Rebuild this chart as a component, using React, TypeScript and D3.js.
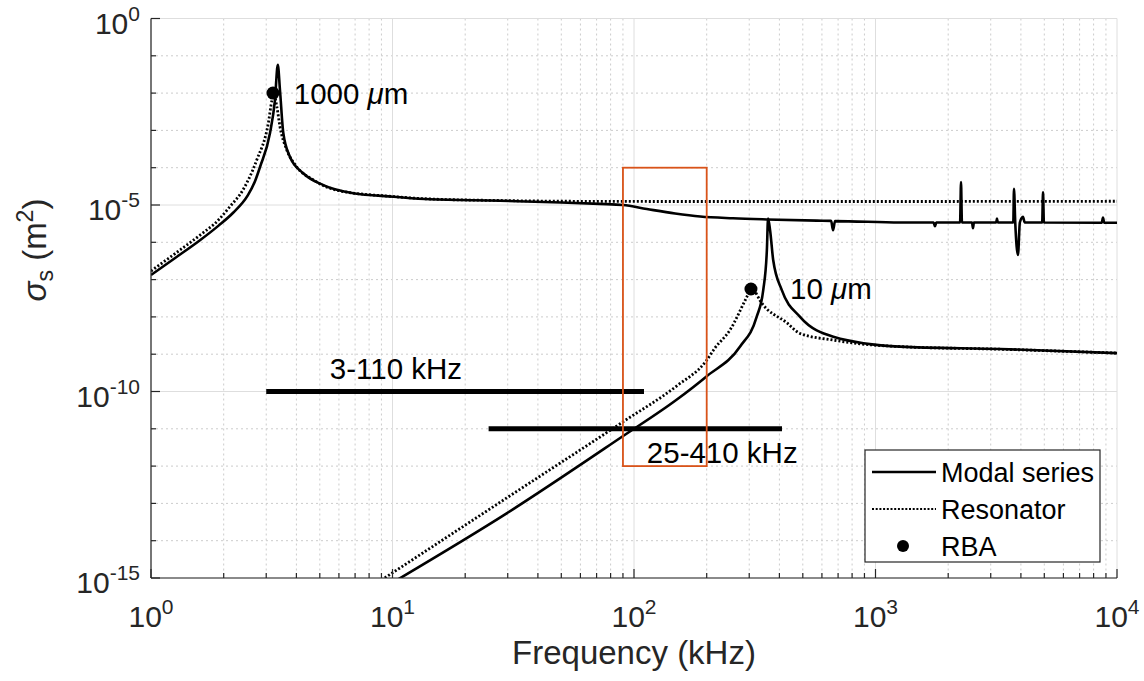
import React from 'react';
import * as d3 from 'd3';

type Pt = [number, number];

// Scattering cross-section (m^2) against frequency (kHz)
const modalSeries1000: Pt[] = [
  [1, 1.33e-7], [1.259, 3.8e-7], [1.585, 1.1e-6], [1.905, 2.8e-6], [2.188, 6.2e-6],
  [2.512, 1.78e-5], [2.69, 4.2e-5], [2.83, 1.06e-4], [3.11, 8.5e-4], [3.26, 6.5e-3],
  [3.35, 5.7e-2], [3.42, 1.21e-2], [3.53, 8.5e-4], [3.76, 1.97e-4], [4.27, 7.1e-5],
  [5.17, 3.4e-5], [6.88, 2.06e-5], [10.1, 1.67e-5], [14.3, 1.42e-5], [27.9, 1.3e-5],
  [50, 1.17e-5], [72, 1.07e-5], [90, 1.0e-5], [113, 7.8e-6], [148, 5.9e-6],
  [188, 4.9e-6], [257, 4.4e-6], [355, 4.1e-6], [572, 3.8e-6],
  [655, 3.75e-6], [667, 2.1e-6], [680, 3.7e-6],
  [1262, 3.4e-6], [1740, 3.4e-6], [1763, 2.7e-6], [1785, 3.4e-6],
  [2240, 3.4e-6], [2260, 4.1e-5], [2280, 3.4e-6],
  [2510, 3.4e-6], [2533, 2.4e-6], [2555, 3.4e-6],
  [3160, 3.4e-6], [3184, 4.3e-6], [3210, 3.4e-6],
  [3720, 3.4e-6], [3745, 2.7e-5], [3790, 3.4e-6], [3890, 4.6e-7], [3960, 3.4e-6],
  [4080, 4.8e-6], [4150, 3.4e-6],
  [4900, 3.4e-6], [4940, 2.2e-5], [4980, 3.4e-6],
  [8650, 3.35e-6], [8750, 4.6e-6], [8850, 3.35e-6], [10000, 3.35e-6],
];

const resonator1000: Pt[] = [
  [1, 1.7e-7], [1.259, 5.0e-7], [1.585, 1.51e-6], [1.905, 4.0e-6], [2.12, 9.0e-6],
  [2.4, 2.5e-5], [2.74, 1.6e-4], [3.06, 1.55e-3], [3.17, 6.5e-3], [3.23, 8.9e-3],
  [3.32, 4.3e-3], [3.42, 1.26e-3], [3.65, 3.0e-4], [4.01, 1.06e-4], [4.7, 4.7e-5],
  [5.87, 2.5e-5], [10, 1.69e-5], [14.3, 1.45e-5], [27.9, 1.32e-5], [72, 1.25e-5],
  [200, 1.24e-5], [1000, 1.24e-5], [10000, 1.26e-5],
];

const modalSeries10: Pt[] = [
  [10, 7.5e-16], [29.7, 5.4e-14], [89.5, 6.2e-12], [150, 6.0e-11], [199, 2.5e-10],
  [275, 1.6e-9], [322, 1.0e-8], [343, 5.3e-8], [355, 6.2e-7], [359, 4.3e-6],
  [366, 2.1e-6], [377, 3.35e-7], [409, 5.3e-8], [487, 1.0e-8], [669, 2.95e-9],
  [1262, 1.6e-9], [3280, 1.38e-9], [10000, 1.07e-9],
];

const resonator10: Pt[] = [
  [9, 8.8e-16], [29.7, 1.4e-13], [89.5, 1.5e-11], [150, 1.4e-10], [199, 6.6e-10],
  [216, 1.44e-9], [250, 4.5e-9], [293, 3.4e-8], [305, 5.6e-8], [317, 4.7e-8],
  [332, 2.8e-8], [430, 6.9e-9], [487, 3.6e-9], [667, 2.4e-9], [862, 1.9e-9],
  [1262, 1.6e-9], [3280, 1.36e-9], [10000, 1.07e-9],
];

const rbaPoints: Pt[] = [[3.2, 1e-2], [305, 5.6e-8]];

const bandRanges = [
  { label: '3-110 kHz', from: 3, to: 110, level: 1e-10 },
  { label: '25-410 kHz', from: 25, to: 410, level: 1e-11 },
];

const highlightBox = { f0: 90, f1: 200, v0: 1e-12, v1: 1e-4 };

const freqTickExponents = [0, 1, 2, 3, 4];
const sigmaLabelExponents = [0, -5, -10, -15];
const legendLabels = ['Modal series', 'Resonator', 'RBA'];

const W = 1144;
const H = 681;
const L = 151;
const R = 1117;
const T = 18.5;
const B = 578;

const FONT = '"Liberation Sans", Arial, Helvetica, sans-serif';
const AX = '#262626';

export default function App() {
  const x = d3.scaleLog().domain([1, 1e4]).range([L, R]);
  const y = d3.scaleLog().domain([1e-15, 1]).range([B, T]);

  const line = d3
    .line<Pt>()
    .x((d) => x(d[0]))
    .y((d) => y(d[1]))
    .curve(d3.curveMonotoneX);

  // minor frequency ticks 2..9 per decade
  const minorF: number[] = [];
  for (let e = 0; e < 4; e++) for (let k = 2; k <= 9; k++) minorF.push(k * Math.pow(10, e));
  const majorF = freqTickExponents.map((e) => Math.pow(10, e));

  const allDecades = d3.range(0, -16, -1);
  const minorDecades = allDecades.filter((e) => !sigmaLabelExponents.includes(e));

  const annotations = [
    { text: '1000 ', unit: 'μm', f: 3.9, v: 1e-2, dy: 11 },
    { text: '10 ', unit: 'μm', f: 443, v: 5.6e-8, dy: 10 },
  ];

  const bandLabels = [
    { text: bandRanges[0].label, f: 5.5, v: bandRanges[0].level, dy: -13 },
    { text: bandRanges[1].label, f: 113, v: bandRanges[1].level, dy: 34 },
  ];

  const legendX = 865;
  const legendY = 450;
  const legendW = 235;
  const legendH = 112;
  const rows = [472, 509, 546];

  return (
    <svg
      width={W}
      height={H}
      viewBox={`0 0 ${W} ${H}`}
      style={{ position: 'absolute', left: 0, top: 0, background: '#fff', fontFamily: FONT }}
    >
      <defs>
        <clipPath id="plotArea">
          <rect x={L} y={T} width={R - L} height={B - T} />
        </clipPath>
      </defs>
      <rect x={0} y={0} width={W} height={H} fill="#fff" />

      {/* grid */}
      <g>
        {minorF.map((f) => (
          <line key={'gfm' + f} x1={x(f)} x2={x(f)} y1={T} y2={B} stroke="#cccccc" strokeWidth={1} strokeDasharray="2,3" />
        ))}
        {minorDecades.map((e) => (
          <line key={'gym' + e} x1={L} x2={R} y1={y(Math.pow(10, e))} y2={y(Math.pow(10, e))} stroke="#cccccc" strokeWidth={1} strokeDasharray="2,3" />
        ))}
        {majorF.map((f) => (
          <line key={'gfM' + f} x1={x(f)} x2={x(f)} y1={T} y2={B} stroke="#dedede" strokeWidth={1} />
        ))}
        {sigmaLabelExponents.map((e) => (
          <line key={'gyM' + e} x1={L} x2={R} y1={y(Math.pow(10, e))} y2={y(Math.pow(10, e))} stroke="#dedede" strokeWidth={1} />
        ))}
      </g>

      {/* curves */}
      <g clipPath="url(#plotArea)" fill="none" stroke="#000">
        <path d={line(resonator1000) || ''} strokeWidth={2.8} strokeDasharray="2,2" />
        <path d={line(resonator10) || ''} strokeWidth={2.8} strokeDasharray="2,2" />
        <path d={line(modalSeries1000) || ''} strokeWidth={2.6} strokeLinejoin="round" />
        <path d={line(modalSeries10) || ''} strokeWidth={2.6} strokeLinejoin="round" />
      </g>

      {/* frequency bands */}
      {bandRanges.map((b) => (
        <line key={b.label} x1={x(b.from)} x2={x(b.to)} y1={y(b.level)} y2={y(b.level)} stroke="#000" strokeWidth={5} />
      ))}

      {/* RBA points */}
      {rbaPoints.map((p, i) => (
        <circle key={'rba' + i} cx={x(p[0])} cy={y(p[1])} r={6.5} fill="#000" />
      ))}

      {/* highlighted region */}
      <rect
        x={x(highlightBox.f0)}
        y={y(highlightBox.v1)}
        width={x(highlightBox.f1) - x(highlightBox.f0)}
        height={y(highlightBox.v0) - y(highlightBox.v1)}
        fill="none"
        stroke="#D95319"
        strokeWidth={1.8}
      />

      {/* annotations */}
      {annotations.map((a) => (
        <text key={a.text} x={x(a.f)} y={y(a.v)} dy={a.dy} fontSize={29.5} fill="#000">
          {a.text}
          <tspan fontStyle="italic">{a.unit.charAt(0)}</tspan>
          {a.unit.slice(1)}
        </text>
      ))}
      {bandLabels.map((a) => (
        <text key={a.text} x={x(a.f)} y={y(a.v)} dy={a.dy} fontSize={29.5} fill="#000">
          {a.text}
        </text>
      ))}

      {/* axes */}
      <g stroke={AX} strokeWidth={1.2}>
        <line x1={L} x2={L} y1={T} y2={B} />
        <line x1={L} x2={R} y1={B} y2={B} />
        {majorF.map((f) => (
          <line key={'tf' + f} x1={x(f)} x2={x(f)} y1={B} y2={B - 9} />
        ))}
        {minorF.map((f) => (
          <line key={'tfm' + f} x1={x(f)} x2={x(f)} y1={B} y2={B - 5} />
        ))}
        {sigmaLabelExponents.map((e) => (
          <line key={'ty' + e} x1={L} x2={L + 9} y1={y(Math.pow(10, e))} y2={y(Math.pow(10, e))} />
        ))}
        {minorDecades.map((e) => (
          <line key={'tym' + e} x1={L} x2={L + 5} y1={y(Math.pow(10, e))} y2={y(Math.pow(10, e))} />
        ))}
      </g>

      {/* tick labels */}
      {freqTickExponents.map((e) => (
        <text key={'lx' + e} x={x(Math.pow(10, e))} y={627} textAnchor="middle" fontSize={30} fill={AX}>
          10<tspan dy={-13} fontSize={21}>{e}</tspan>
        </text>
      ))}
      {sigmaLabelExponents.map((e) => (
        <text key={'ly' + e} x={140} y={y(Math.pow(10, e)) + 15} textAnchor="end" fontSize={30} fill={AX}>
          10<tspan dy={-13} fontSize={21}>{e}</tspan>
        </text>
      ))}

      {/* axis titles */}
      <text x={(L + R) / 2} y={664} textAnchor="middle" fontSize={33} fill={AX}>
        Frequency (kHz)
      </text>
      <text transform="translate(46,250) rotate(-90)" textAnchor="middle" fontSize={33} fill={AX}>
        <tspan fontStyle="italic">σ</tspan>
        <tspan dy={7} fontSize={23}>s</tspan>
        <tspan dy={-7}> (m</tspan>
        <tspan dy={-13} fontSize={23}>2</tspan>
        <tspan dy={13}>)</tspan>
      </text>

      {/* legend */}
      <g>
        <rect x={legendX} y={legendY} width={legendW} height={legendH} fill="#fff" stroke={AX} strokeWidth={1.2} />
        <line x1={872} x2={936} y1={rows[0]} y2={rows[0]} stroke="#000" strokeWidth={2.6} />
        <line x1={872} x2={936} y1={rows[1]} y2={rows[1]} stroke="#000" strokeWidth={2.2} strokeDasharray="2,1.7" />
        <circle cx={903} cy={rows[2]} r={6} fill="#000" />
        {legendLabels.map((t, i) => (
          <text key={t} x={941} y={rows[i] + 10} fontSize={27} fill="#000">
            {t}
          </text>
        ))}
      </g>
    </svg>
  );
}
